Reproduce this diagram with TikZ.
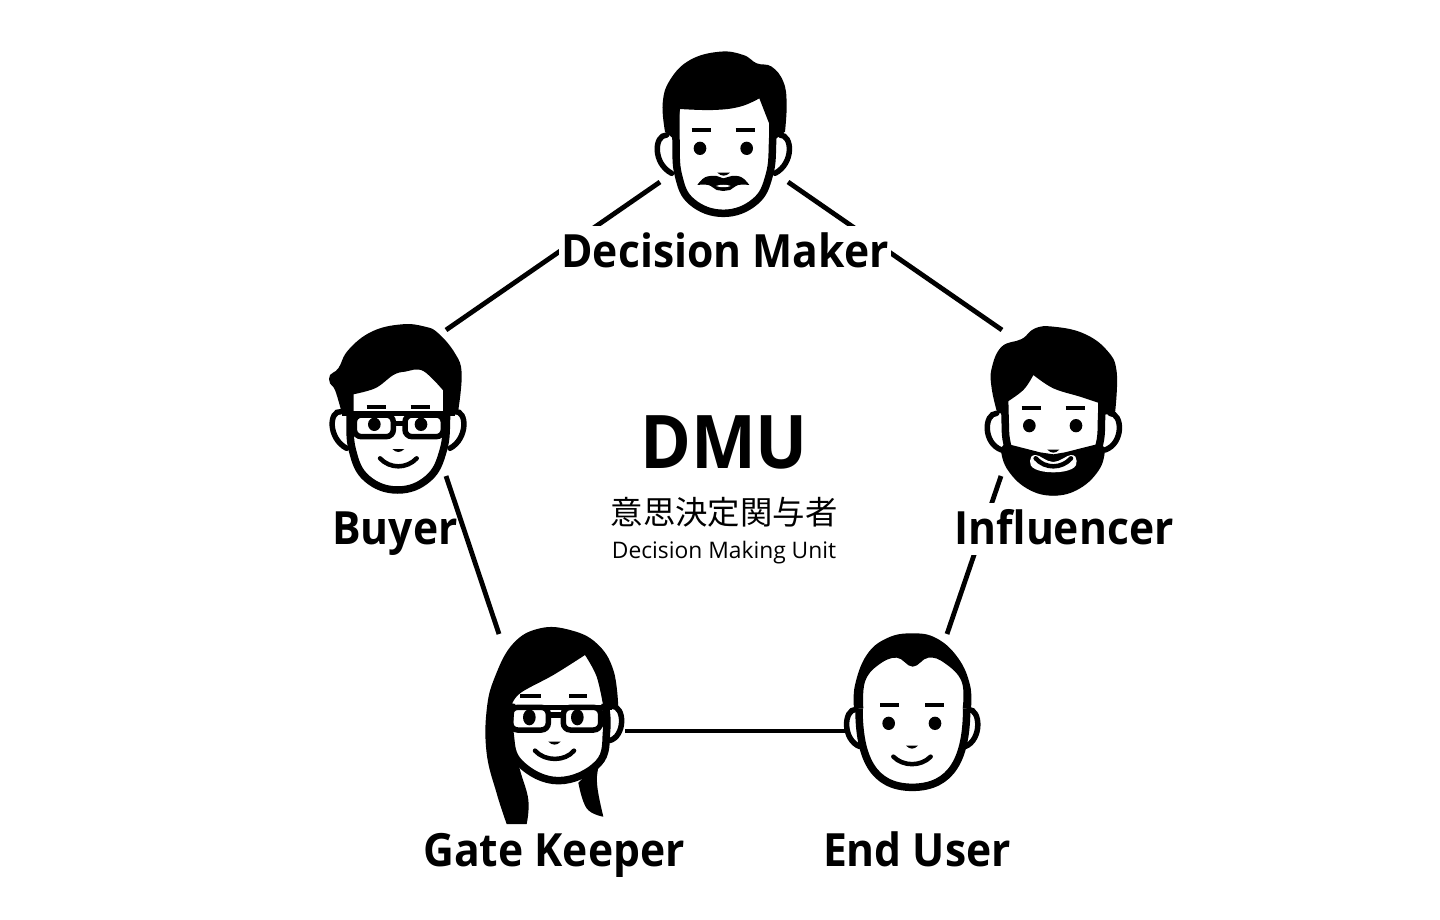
\documentclass[tikz,border=0pt]{standalone}
\usepackage{fontspec}
\setmainfont{Open Sans}
\newfontfamily\rolefont{Open Sans}[FakeStretch=0.93]
\newfontfamily\jpfont{Noto Sans CJK JP}
\usetikzlibrary{positioning}
\tikzset{
  link/.style={line width=4.8pt},
  role/.style={font=\rolefont\fontsize{45.8}{46}\selectfont\bfseries,fill=white,anchor=base,inner ysep=0pt,inner xsep=2pt,text height=41pt,text depth=11pt},
  headline/.style={line width=7.5pt,fill=white},
  earline/.style={line width=5.5pt,line cap=round},
  browline/.style={line width=4pt},
  smileline/.style={line width=4.5pt,line cap=round},
  rimline/.style={line width=5.5pt,rounded corners=7pt},
  barline/.style={line width=5.5pt},
}
% parts of a face, in the units of the scope
\newcommand{\eyes}[4]{\fill (#1,#3) ellipse (19 and #4); \fill (#2,#3) ellipse (19 and #4);}
\newcommand{\brows}[5]{\draw[browline] (#1,#5) -- (#2,#5); \draw[browline] (#3,#5) -- (#4,#5);}
\newcommand{\nose}[3]{\fill (#1,#3) .. controls (#1+12,#3+12) and (#2-12,#3+12) .. (#2,#3) -- cycle;}
\begin{document}
\begin{tikzpicture}[x=1pt,y=-1pt]
\useasboundingbox (0,0) rectangle (1440,920);
% line ends
\coordinate (dmL) at (660,182);
\coordinate (dmR) at (788,182);
\coordinate (buyerT) at (446,330);
\coordinate (buyerB) at (446,476);
\coordinate (inflT) at (1002,330);
\coordinate (inflB) at (1001,476);
\coordinate (gateT) at (499,634);
\coordinate (gateR) at (625,731);
\coordinate (endT) at (947,634);
\coordinate (endL) at (845,731);
\draw[link] (dmL) -- (buyerT);
\draw[link] (dmR) -- (inflT);
\draw[link] (buyerB) -- (gateT);
\draw[link] (inflB) -- (endT);
\draw[link] (gateR) -- (endL);
% labels
\node[role] (dm) at (725,267) {Decision Maker};
\node[role,fill=none] (buyer) at (395,544) {Buyer};
\node[role] (infl) at (1064,544) {Influencer};
\node[role] (gate) at (554,866) {Gate Keeper};
\node[role] (enduser) at (917,866) {End User};
\node[anchor=base] (dmu) at (724,468) {\rolefont\fontsize{74}{74}\selectfont\bfseries DMU};
\node (jp) at (724,512) {\jpfont\fontsize{32.4}{32.4}\selectfont 意思決定関与者};
\node[anchor=base] (unit) at (724,558) {\fontsize{22.8}{22.8}\selectfont Decision Making Unit};
% decision maker
\begin{scope}[shift={(640,40)},scale=1/3]
\draw[earline] (80,285) .. controls (42,285) and (38,370) .. (95,400);
\draw[earline] (420,285) .. controls (458,285) and (462,370) .. (405,400);
\draw[headline] plot[smooth,tension=.7] coordinates {(108,200) (108,300) (115,405) (155,485) (250,520) (345,485) (388,405) (398,300) (398,200)};
\fill plot[smooth,tension=.7] coordinates {(75,275) (68,190) (90,120) (150,60) (240,35) (310,45) (350,70) (395,80) (430,125) (440,190) (435,275)}
  -- (403,300) -- plot[smooth,tension=.5] coordinates {(395,270) (358,175)}
  -- plot[smooth,tension=.7] coordinates {(358,175) (300,200) (220,210) (120,207)} -- (105,300) -- cycle;
\eyes{180}{320}{325}{20}
\brows{155}{212}{287}{346}{271}
\nose{232}{270}{398}
\fill plot[smooth,tension=.7] coordinates {(172,435) (195,412) (230,408) (250,415) (275,408) (305,412) (328,435)}
  -- plot[smooth,tension=.7] coordinates {(328,435) (295,435) (270,450) (250,453) (230,450) (205,435) (172,435)};
\fill[white] (228,438) .. controls (240,433) and (260,433) .. (272,438) .. controls (260,443) and (240,443) .. cycle;
\end{scope}
% buyer
\begin{scope}[shift={(315,315)},scale=1/3]
\draw[earline] (78,290) .. controls (42,285) and (38,370) .. (95,400);
\draw[earline] (420,290) .. controls (456,285) and (460,370) .. (405,400);
\draw[headline] plot[smooth,tension=.7] coordinates {(105,200) (105,300) (112,405) (155,490) (248,525) (340,490) (385,405) (395,300) (395,200)};
\fill plot[smooth,tension=.7] coordinates {(78,285) (60,225) (45,205) (45,180) (70,160) (100,105) (170,50) (260,28) (330,35) (370,55) (420,115) (440,175) (430,285)}
  -- (395,300) -- plot[smooth,tension=.6] coordinates {(392,235) (325,168) (270,170) (235,180) (180,220) (105,240)} -- (105,295) -- cycle;
\eyes{178}{318}{328}{20}
\brows{155}{212}{287}{345}{275}
\nose{232}{268}{402}
\draw[smileline] (195,430) .. controls (225,462) and (275,462) .. (305,430);
\draw[rimline] (118,300) rectangle (235,365);
\draw[rimline] (270,300) rectangle (385,365);
\draw[barline] (80,296) -- (420,296);
\draw[barline] (235,325) -- (270,325);
\end{scope}
% influencer
\begin{scope}[shift={(970,315)},scale=1/3]
\draw[earline] (80,295) .. controls (42,295) and (38,385) .. (95,405);
\draw[earline] (420,295) .. controls (458,295) and (462,385) .. (405,405);
\draw[headline] plot[smooth,tension=.7] coordinates {(105,200) (105,300) (115,400) (165,490) (250,530) (335,490) (385,400) (395,300) (395,200)};
\fill plot[smooth,tension=.7] coordinates {(82,295) (65,220) (65,160) (95,95) (155,72) (195,40) (250,35) (340,55) (410,105) (440,170) (435,295)}
  -- (395,300) -- (390,265) -- plot[smooth,tension=.6] coordinates {(390,265) (330,245) (250,220) (190,180)}
  -- plot[smooth,tension=.6] coordinates {(190,180) (160,225) (105,265)} -- (105,295) -- cycle;
\fill (105,385) -- (210,412) -- (250,418) -- (285,412) -- (392,385) -- plot[smooth,tension=.7] coordinates {(405,400) (390,460) (330,520) (250,542) (170,520) (110,460) (92,400)} -- cycle;
\fill[white] plot[smooth cycle,tension=.7] coordinates {(180,438) (197,420) (250,441) (303,420) (320,438) (305,462) (250,472) (195,462)};
\eyes{178}{318}{332}{20}
\brows{155}{212}{287}{345}{279}
\nose{232}{268}{404}
\draw[smileline] (197,430) .. controls (225,462) and (275,462) .. (303,430);
\end{scope}
% gate keeper
\begin{scope}[shift={(470,620)},scale=1/3]
\draw[earline] (425,258) .. controls (466,258) and (466,350) .. (418,362);
\draw[headline] plot[smooth,tension=.7] coordinates {(125,250) (120,340) (150,430) (265,482) (385,430) (410,330) (405,250)};
\fill plot[smooth,tension=.7] coordinates {(110,612) (80,520) (50,400) (50,270) (75,170) (130,70) (210,25) (300,30) (380,70) (430,150) (445,265)}
  -- (402,262) -- plot[smooth,tension=.6] coordinates {(400,260) (380,170) (345,105)}
  -- plot[smooth,tension=.6] coordinates {(345,105) (250,165) (150,220) (122,262)} -- (118,330)
  -- plot[smooth,tension=.7] coordinates {(118,330) (150,450) (175,540) (170,612)} -- cycle;
\fill plot[smooth,tension=.7] coordinates {(402,365) (385,440) (382,500) (400,590)}
  -- plot[smooth,tension=.7] coordinates {(400,590) (350,565) (325,488)} -- (385,430) -- cycle;
\eyes{178}{322}{292}{24}
\brows{150}{212}{298}{352}{227}
\nose{235}{272}{365}
\draw[smileline] (195,392) .. controls (225,425) and (285,425) .. (312,392);
\draw[rimline] (122,262) rectangle (235,330);
\draw[rimline] (280,262) rectangle (392,330);
\draw[barline] (130,262) -- (425,262);
\draw[barline] (235,285) -- (280,285);
\end{scope}
% end user
\begin{scope}[shift={(830,625)},scale=1/3]
\draw[earline] (78,253) .. controls (40,253) and (37,345) .. (90,365);
\draw[earline] (415,253) .. controls (453,253) and (456,345) .. (405,365);
\draw[headline] (87,250) .. controls (87,400) and (130,487) .. (247,487) .. controls (365,487) and (410,400) .. (410,250);
\fill plot[smooth,tension=.7] coordinates {(72,250) (75,180) (110,90) (170,40) (245,25) (320,40) (385,100) (420,180) (423,250)}
  -- (398,250) -- plot[smooth,tension=.7] coordinates {(398,250) (395,170) (345,115) (295,98) (248,125) (200,98) (145,120) (105,170) (100,250)} -- cycle;
\eyes{176}{315}{295}{20}
\brows{150}{207}{285}{342}{241}
\nose{228}{264}{362}
\draw[smileline] (190,395) .. controls (220,425) and (272,425) .. (302,395);
\end{scope}
\end{tikzpicture}
\end{document}
